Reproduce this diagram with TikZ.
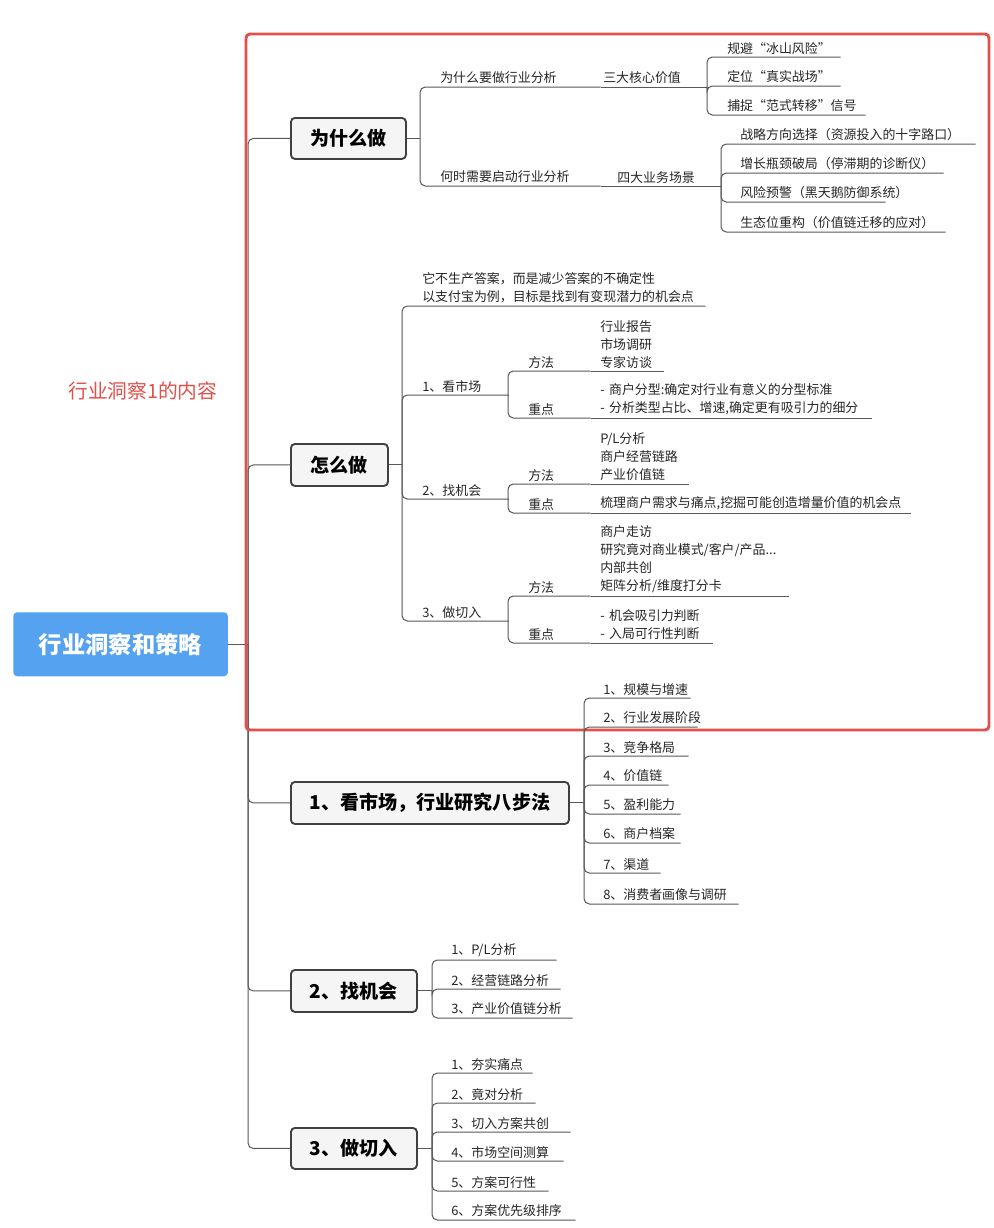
\documentclass[tikz,border=0pt]{standalone}
\usepackage{fontspec}
\setmainfont{Noto Sans CJK SC}
\begin{document}
\begin{tikzpicture}[x=0.75pt,y=-0.75pt,
  ln/.style={draw=black!65,line width=0.75pt},
  box/.style={draw=black!75,line width=1.4pt,fill=black!4,rounded corners=3pt,inner sep=0,font=\fontsize{14.3}{16}\selectfont\bfseries},
  txt/.style={font=\fontsize{9.7}{13.5}\selectfont,text=black!85}]
\useasboundingbox (0,0) rectangle (993,1228);
\fill[white] (0,0) rectangle (993,1228);
\newcommand\itm[5]{\pgfmathsetmacro\w{(#4-#2)*0.75}%
  \node[txt,anchor=south west,inner xsep=0,inner ysep=2pt,align=left,text width=\w pt] (#1) at (#2,#3) {#5};}
\newcommand\kid[3]{\coordinate (tq) at (#3,0);
  \draw[ln] (#1) -- (tq |- #1);
  \draw[ln,rounded corners=4pt] (tq |- #1) -- (tq |- #2.south east) -- (#2.south east);}
\newcommand\chain[2]{\draw[ln] (#1.south east) -- (#2.south east);}
\newcommand\bx[6]{\node[box,minimum width={(#4-#2)*0.75pt},minimum height={(#5-#3)*0.75pt},anchor=north west] (#1) at (#2,#3) {#6};}

% root
\node[fill={rgb,255:red,84;green,162;blue,240},rounded corners=3pt,minimum width=161pt,minimum height=48pt,anchor=north west,text=white,font=\fontsize{17.5}{20}\selectfont\bfseries] (R) at (13,612) {行业洞察和策略};
\bx{W}{290}{117}{405}{158}{为什么做}
\bx{H}{290}{443}{387}{485}{怎么做}
\bx{S1}{290}{781}{568}{823}{1、看市场，行业研究八步法}
\bx{S2}{290}{969}{416}{1011}{2、找机会}
\bx{S3}{290}{1127}{416}{1168}{3、做切入}
\coordinate (rb) at (248,0);
\draw[ln] (R.east) -- (rb |- R.east);
\foreach \b in {W,H,S1,S2,S3}{\draw[ln,rounded corners=4pt] (rb |- R.east) -- (rb |- \b.west) -- (\b.west);}

% red frame
\draw[draw={rgb,255:red,226;green,80;blue,74},line width=2.2pt,rounded corners=3pt] (246,34) rectangle (989,730);
\node[anchor=west,inner xsep=0,text={rgb,255:red,226;green,80;blue,74},font=\fontsize{14.8}{16}\selectfont] (lab) at (68,391) {行业洞察1的内容};

% 为什么做
\itm{a1}{440}{87}{600}{为什么要做行业分析}
\itm{a1b}{603}{87}{700}{三大核心价值}
\itm{c1}{727}{57}{840}{规避“冰山风险”}
\itm{c2}{727}{86}{840}{定位“真实战场”}
\itm{c3}{727}{115}{865}{捕捉“范式转移”信号}
\itm{a2}{440}{186}{600}{何时需要启动行业分析}
\itm{a2b}{617}{186}{700}{四大业务场景}
\itm{d1}{740}{144}{975}{战略方向选择（资源投入的十字路口）}
\itm{d2}{740}{173}{943}{增长瓶颈破局（停滞期的诊断仪）}
\itm{d3}{740}{202}{885}{风险预警（黑天鹅防御系统）}
\itm{d4}{740}{232}{945}{生态位重构（价值链迁移的应对）}
\kid{W.east}{a1}{420}\kid{W.east}{a2}{420}
\chain{a1}{a1b}\chain{a2}{a2b}
\kid{a1b.south east}{c1}{707}\kid{a1b.south east}{c2}{707}\kid{a1b.south east}{c3}{707}
\foreach \d in {d1,d2,d3,d4}{\kid{a2b.south east}{\d}{721}}

% 怎么做
\itm{e0}{422}{306}{705}{它不生产答案，而是减少答案的不确定性\\以支付宝为例，目标是找到有变现潜力的机会点}
\itm{e1}{422}{395}{508}{1、看市场}
\itm{e2}{422}{499}{508}{2、找机会}
\itm{e3}{422}{621}{508}{3、做切入}
\foreach \e in {e0,e1,e2,e3}{\kid{H.east}{\e}{402}}
\itm{m1}{528}{371}{590}{方法}
\itm{m1b}{600}{371}{663}{行业报告\\市场调研\\专家访谈}
\itm{k1}{528}{418}{590}{重点}
\itm{k1b}{600}{418}{871}{- 商户分型:确定对行业有意义的分型标准\\- 分析类型占比、增速,确定更有吸引力的细分}
\itm{m2}{528}{484}{590}{方法}
\itm{m2b}{600}{484}{688}{P/L分析\\商户经营链路\\产业价值链}
\itm{k2}{528}{513}{590}{重点}
\itm{k2b}{600}{513}{910}{梳理商户需求与痛点,挖掘可能创造增量价值的机会点}
\itm{m3}{528}{596}{590}{方法}
\itm{m3b}{600}{596}{788}{商户走访\\研究竟对商业模式/客户/产品...\\内部共创\\矩阵分析/维度打分卡}
\itm{k3}{528}{643}{590}{重点}
\itm{k3b}{600}{643}{712}{- 机会吸引力判断\\- 入局可行性判断}
\kid{e1.south east}{m1}{508}\kid{e1.south east}{k1}{508}
\kid{e2.south east}{m2}{508}\kid{e2.south east}{k2}{508}
\kid{e3.south east}{m3}{508}\kid{e3.south east}{k3}{508}
\chain{m1}{m1b}\chain{k1}{k1b}\chain{m2}{m2b}\chain{k2}{k2b}\chain{m3}{m3b}\chain{k3}{k3b}

% 八步法
\itm{f1}{603}{698}{690}{1、规模与增速}
\itm{f2}{603}{727}{697}{2、行业发展阶段}
\itm{f3}{603}{756}{688}{3、竞争格局}
\itm{f4}{603}{785}{668}{4、价值链}
\itm{f5}{603}{814}{680}{5、盈利能力}
\itm{f6}{603}{843}{680}{6、商户档案}
\itm{f7}{603}{873}{660}{7、渠道}
\itm{f8}{603}{904}{738}{8、消费者画像与调研}
\foreach \f in {f1,f2,f3,f4,f5,f6,f7,f8}{\kid{S1.east}{\f}{584}}

\itm{g1}{451}{960}{556}{1、P/L分析}
\itm{g2}{451}{989}{560}{2、经营链路分析}
\itm{g3}{451}{1018}{572}{3、产业价值链分析}
\foreach \g in {g1,g2,g3}{\kid{S2.east}{\g}{432}}

\itm{h1}{451}{1073}{532}{1、夯实痛点}
\itm{h2}{451}{1103}{535}{2、竟对分析}
\itm{h3}{451}{1132}{570}{3、切入方案共创}
\itm{h4}{451}{1161}{563}{4、市场空间测算}
\itm{h5}{451}{1191}{548}{5、方案可行性}
\itm{h6}{451}{1220}{575}{6、方案优先级排序}
\foreach \h in {h1,h2,h3,h4,h5,h6}{\kid{S3.east}{\h}{432}}
\end{tikzpicture}
\end{document}
